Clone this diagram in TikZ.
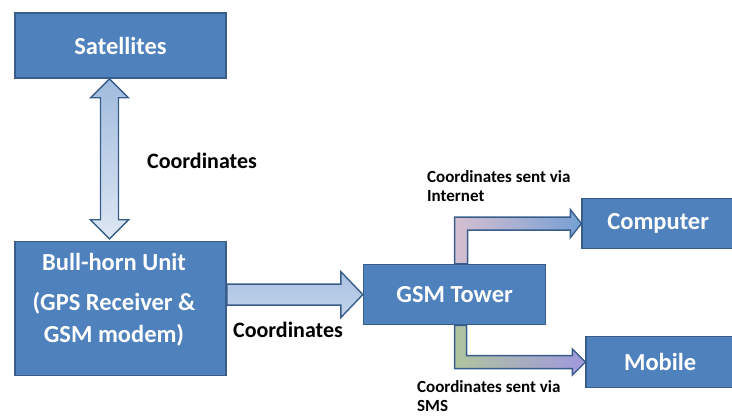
\documentclass[tikz,border=0pt]{standalone}
\usepackage{fontspec}
\setmainfont{Carlito}
\usepackage{xcolor}
\usepackage{tikz}
\usetikzlibrary{positioning, calc}
\definecolor{boxblue}{RGB}{79,129,189}
\definecolor{edgeblue}{RGB}{56,93,138}
\tikzstyle{block} = [rectangle, draw=edgeblue, line width=1.6pt, fill=boxblue, text=white, font=\fontsize{24.5}{28}\selectfont\bfseries, align=center]
\tikzstyle{fatarrow} = [draw=edgeblue, line width=1.4pt, line join=miter]
\tikzstyle{lbl} = [font=\fontsize{22}{26}\selectfont\bfseries, text=black]
\tikzstyle{smalllbl} = [font=\fontsize{17}{19}\selectfont\bfseries, text=black, align=left, inner sep=0pt]

\begin{document}
\begin{tikzpicture}[x=1pt, y=-1pt]
    \useasboundingbox (0,0) rectangle (732,417);
    % Blocks
    \node[block, minimum width=211pt, minimum height=65pt] (sat) at (120.5,45.5) {Satellites};
    \node[block, minimum width=211pt, minimum height=134pt, below=162pt of sat] (bull)
        {\raisebox{8pt}[\height][\depth]{\begin{tabular}{@{}c@{}}Bull-horn Unit\\[12pt](GPS Receiver \&\\[4pt]GSM modem)\end{tabular}}\hspace{13pt}};
    \node[block, minimum width=182pt, minimum height=60pt, right=136pt of bull, yshift=14pt] (gsm) {GSM Tower};
    \node[block, minimum width=152pt, minimum height=50pt, right=35pt of gsm, yshift=71pt] (comp) {Computer};
    \node[block, minimum width=148pt, minimum height=51pt, right=39pt of gsm, yshift=-67.5pt] (mob) {Mobile};

    % Arrows
    \coordinate (up) at ($(sat.south)+(-11,0)$);
    \coordinate (dn) at ($(bull.north)+(-11,-2)$);
    \path[fatarrow, top color={rgb,255:red,160;green,187;blue,221}, bottom color={rgb,255:red,222;green,231;blue,244}]
        (up) -- ++(19,19) -- ++(-10,0) -- ($(dn)+(9,-19)$) -- ++(10,0) -- (dn) -- ++(-19,-19) -- ++(10,0) -- ($(up)+(-9,19)$) -- ++(-10,0) -- cycle;
    \path[fatarrow, top color={rgb,255:red,168;green,192;blue,224}, bottom color={rgb,255:red,196;green,213;blue,236}]
        ($(bull.east |- gsm.west)+(0,-10.5)$) -- ($(gsm.west)+(-22,-10.5)$) -- ($(gsm.west)+(-22,-23)$) -- (gsm.west)
        -- ($(gsm.west)+(-22,23)$) -- ($(gsm.west)+(-22,10.5)$) -- ($(bull.east |- gsm.west)+(0,10.5)$) -- cycle;
    \path[fatarrow, left color={rgb,255:red,214;green,190;blue,208}, right color={rgb,255:red,118;green,160;blue,212}]
        (gsm.north) -- ($(gsm.north |- comp.west)+(0,-6.5)$) -- ($(comp.west)+(-11,-6.5)$) -- ($(comp.west)+(-11,-14)$) -- (comp.west)
        -- ($(comp.west)+(-11,14)$) -- ($(comp.west)+(-11,6.5)$) -- ($(gsm.north |- comp.west)+(13,6.5)$) -- ($(gsm.north)+(13,0)$) -- cycle;
    \path[fatarrow, left color={rgb,255:red,176;green,196;blue,158}, middle color={rgb,255:red,228;green,236;blue,252}, right color={rgb,255:red,160;green,152;blue,222}]
        (gsm.south) -- ($(gsm.south |- mob.west)+(0,6.5)$) -- ($(mob.west)+(-13,6.5)$) -- ($(mob.west)+(-13,13)$) -- (mob.west)
        -- ($(mob.west)+(-13,-13)$) -- ($(mob.west)+(-13,-6.5)$) -- ($(gsm.south |- mob.west)+(12,-6.5)$) -- ($(gsm.south)+(12,0)$) -- cycle;

    % Labels
    \node[lbl] (coordup) at (202,161) {Coordinates};
    \node[lbl] (coordright) at (288,330) {Coordinates};
    \node[smalllbl, anchor=west] (viainternet) at (427,186.5) {Coordinates sent via\\Internet};
    \node[smalllbl, anchor=west] (viasms) at (417,396.5) {Coordinates sent via\\SMS};
\end{tikzpicture}
\end{document}
